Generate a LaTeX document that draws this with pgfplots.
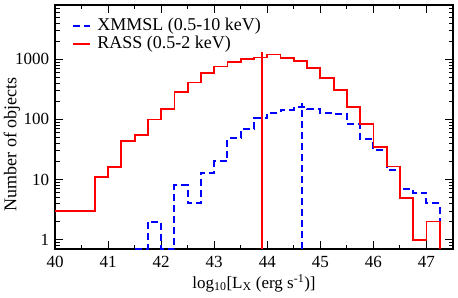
\documentclass[border=0pt]{standalone}
\usepackage{pgfplots}
\pgfplotsset{compat=1.18}
\usepackage{fontspec}
\setmainfont{Liberation Serif}
\definecolor{xblue}{RGB}{0,0,255}
\definecolor{rred}{RGB}{255,0,0}
\begin{document}
\fontsize{17}{20}\selectfont
\begin{tikzpicture}
\begin{axis}[
  scale only axis, width=398pt, height=244pt,
  ymode=log, xmin=40, xmax=47.5, ymin=0.7, ymax=8000,
  clip=false,
  axis line style={line width=1.1pt},
  every tick/.style={black, line width=0.9pt},
  major tick length=8pt, minor tick length=4.5pt,
  tick align=inside,
  xtick={40,41,42,43,44,45,46,47}, minor x tick num=1,
  ytick={1,10,100,1000}, yticklabels={1,10,100,1000},
  minor ytick={0.7,0.8,0.9,2,3,4,5,6,7,8,9,20,30,40,50,60,70,80,90,200,300,400,500,600,700,800,900,2000,3000,4000,5000,6000,7000,8000},
  /pgf/number format/assume math mode=true,
  tick label style={font=\fontsize{17}{20}\selectfont},
  xticklabel style={yshift=-1pt},
  xlabel={log\textsubscript{10}[L\textsubscript{X} (erg s\textsuperscript{-1})]},
  ylabel={Number of objects},
  xlabel style={at={(rel axis cs:0.5,-0.14)}, anchor=center, font=\fontsize{17}{20}\selectfont},
  ylabel style={at={(rel axis cs:-0.108,0.43)}, anchor=center, font=\fontsize{18}{21}\selectfont},
  legend style={at={(rel axis cs:0,1)}, anchor=north west, draw=none, fill=none,
    xshift=14pt, yshift=-10pt, font=\fontsize{18}{21}\selectfont, row sep=1pt,
    nodes={inner sep=1pt},
    /tikz/every odd column/.append style={column sep=5pt}},
  legend cell align=left,
]
\coordinate (bl) at (rel axis cs:0,0);
\coordinate (tr) at (rel axis cs:1,1);
\addplot[const plot, xblue, line width=2pt, dash pattern=on 7pt off 4pt] coordinates {
(41.5,0.7) (41.75,2) (42,0.7) (42.25,8) (42.5,4) (42.75,13) (43,20) (43.25,49) (43.5,69)
(43.75,105) (44,130) (44.25,144) (44.5,160) (44.75,149) (45,130) (45.25,124) (45.5,85)
(45.75,48) (46,31) (46.25,14.6) (46.5,6.9) (46.75,6) (47,4) (47.25,0.7)};
\addlegendentry{XMMSL (0.5-10 keV)}
\addplot[const plot, rred, line width=1.8pt] coordinates {
(40,3) (40.75,11) (41,16) (41.25,44) (41.5,55) (41.75,100) (42,150) (42.25,290) (42.5,410)
(42.75,590) (43,760) (43.25,890) (43.5,1010) (43.75,1075) (44,1200) (44.25,1050) (44.5,930)
(44.75,720) (45,490) (45.25,305) (45.5,163) (45.75,84) (46,35) (46.25,16.5) (46.5,5)
(46.75,1) (47,2) (47.25,0.7)};
\addlegendentry{RASS (0.5-2 keV)}
\addplot[forget plot, rred, line width=1.8pt] coordinates {(43.9,0.7) (43.9,1340)};
\addplot[forget plot, xblue, line width=2pt, dash pattern=on 7pt off 4pt] coordinates {(44.65,0.7) (44.65,185)};
\end{axis}
\pgfresetboundingbox
\path ([shift={(-55pt,-49pt)}]bl) rectangle ([shift={(5pt,5pt)}]tr);
\end{tikzpicture}
\end{document}
